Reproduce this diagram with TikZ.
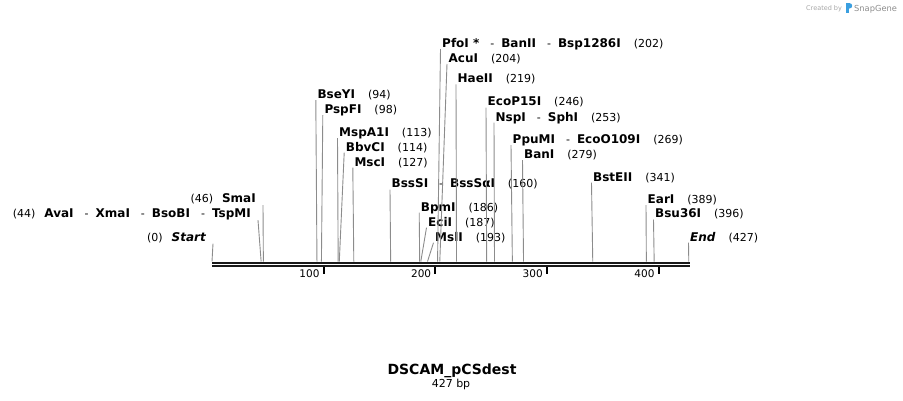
\documentclass[tikz,border=0pt]{standalone}
\usepackage{fontspec}
\setmainfont{DejaVu Sans}
\usetikzlibrary{positioning}

\definecolor{snapblue}{HTML}{3A9FE0}
\newcommand{\enz}[1]{{\fontsize{12}{14}\selectfont\bfseries #1}}
\newcommand{\dsh}{\hspace{11pt}-\hspace{7pt}}

\begin{document}
\begin{tikzpicture}[x=1pt,y=-1pt,
    cutline/.style={black!45,line width=0.9pt},
    backbone/.style={black!90,line width=2.2pt},
    siteR/.style={anchor=base west,inner sep=0pt,font=\fontsize{11}{13}\selectfont},
    siteL/.style={anchor=base east,inner sep=0pt,font=\fontsize{11}{13}\selectfont}]
\useasboundingbox (0,0) rectangle (903,400);

\coordinate (B0) at (212,262.6);
\coordinate (B1) at (690,262.6);
\draw[backbone] (B0) -- (B1);
\draw[backbone] ([yshift=-3.6pt]B0) -- ([yshift=-3.6pt]B1);

\foreach \t in {100,200,300,400}{
    \coordinate (T\t) at (212+1.1166*\t,267);
    \draw[line width=1.8pt] (T\t) -- ++(0,7);
    \node[anchor=east,inner sep=0pt,font=\fontsize{10.5}{12}\selectfont] (L\t) at ([xshift=-4pt,yshift=-7pt]T\t) {\t};
}

\foreach \bp/\lx/\ly/\name [count=\n] in
    {94/317.3/94/{\enz{BseYI}},
     98/324.3/109/{\enz{PspFI}},
     113/339/132/{\enz{MspA1I}},
     114/345.7/146.7/{\enz{BbvCI}},
     127/354.3/161.7/{\enz{MscI}},
     160/391.5/183.5/{\enz{BssSI}\dsh\enz{BssSαI}},
     186/420.7/206.7/{\enz{BpmI}},
     187/428/221.7/{\enz{EciI}},
     193/435/236.7/{\enz{MslI}},
     202/442/43/{\enz{PfoI *}\dsh\enz{BanII}\dsh\enz{Bsp1286I}},
     204/448.5/58/{\enz{AcuI}},
     219/457.5/78.3/{\enz{HaeII}},
     246/487.5/101.5/{\enz{EcoP15I}},
     253/495.5/116.7/{\enz{NspI}\dsh\enz{SphI}},
     269/512.5/139/{\enz{PpuMI}\dsh\enz{EcoO109I}},
     279/524/154/{\enz{BanI}},
     341/593/176.7/{\enz{BstEII}},
     389/647.5/199/{\enz{EarI}},
     396/655/213.5/{\enz{Bsu36I}},
     427/690/236.7/{\enz{\itshape End}}}
{
    \coordinate (S\n) at (212+1.1166*\bp,261.5);
    \node[siteR] (N\n) at (\lx,\ly+4.4) {\name\hspace{13pt}(\bp)};
    \draw[cutline] (S\n) -- ([xshift=-1.5pt,yshift=-1.6pt]N\n.base west);
}

\foreach \bp/\rx/\ly/\name [count=\n] in
    {0/206/236.7/{\enz{\itshape Start}},
     46/256/198.3/{\enz{SmaI}},
     44/251/213.3/{\enz{AvaI}\dsh\enz{XmaI}\dsh\enz{BsoBI}\dsh\enz{TspMI}}}
{
    \coordinate (P\n) at (212+1.1166*\bp,261.5);
    \node[siteL] (M\n) at (\rx,\ly+4.4) {(\bp)\hspace{9pt}\name};
    \draw[cutline] (P\n) -- ([xshift=7pt,yshift=-2.5pt]M\n.base east);
}

\node[anchor=base,inner sep=0pt,font=\fontsize{14}{16}\selectfont\bfseries] (title) at (452,374.5) {DSCAM\_pCSdest};
\node[anchor=base,inner sep=0pt,font=\fontsize{11}{13}\selectfont] (size) at (451,387) {427 bp};

\node[anchor=base west,inner sep=0pt,font=\fontsize{6.5}{8}\selectfont,text=black!35] (made) at (806,10) {Created by};
\fill[snapblue] (846,3) rectangle (848.8,13);
\fill[snapblue] (849.5,5.8) circle (2.7);
\node[anchor=base west,inner sep=0pt,font=\fontsize{8.3}{10}\selectfont,text=black!45] (brand) at (854,11) {SnapGene};
\end{tikzpicture}
\end{document}
